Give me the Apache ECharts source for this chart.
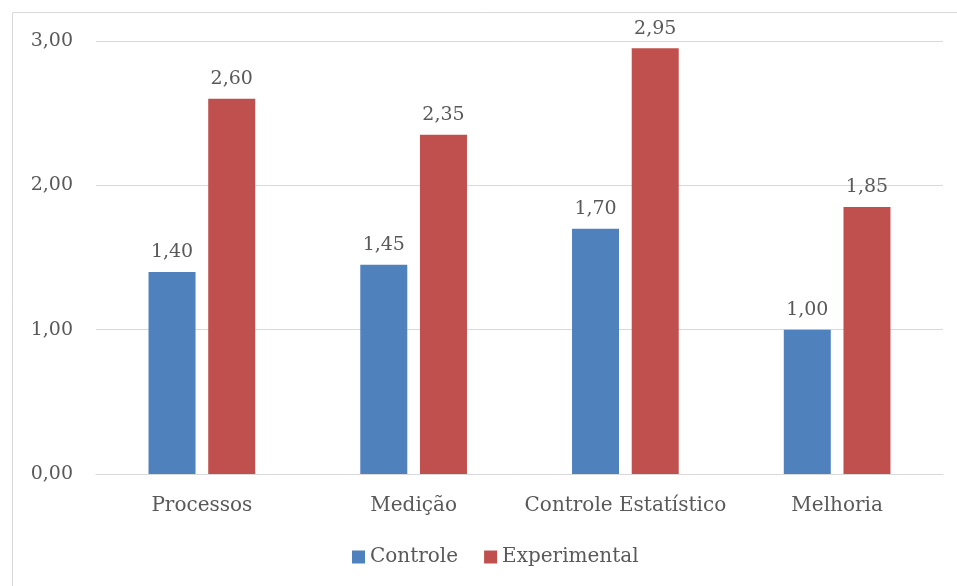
<!DOCTYPE html>
<html>
<head>
<meta charset="utf-8">
<script src="https://cdn.jsdelivr.net/npm/echarts@6/dist/echarts.min.js"></script>
<style>
    html, body { margin: 0; padding: 0; background: #fff; }
    #chart { width: 957px; height: 586px; }
</style>
</head>
<body>
<div id="chart"></div>
<script>
    var categories = ['Processos', 'Medição', 'Controle Estatístico', 'Melhoria'];
    var controle = [1.40, 1.45, 1.70, 1.00];
    var experimental = [2.60, 2.35, 2.95, 1.85];
    var seriesNames = ['Controle', 'Experimental'];

    var font = '"DejaVu Serif", serif';
    var textColor = '#595959';

    function fmt(v) {
        return Number(v).toFixed(2).replace('.', ',');
    }

    var chart = echarts.init(document.getElementById('chart'));
    var option = {
        animation: false,
        textStyle: { fontFamily: font },
        graphic: [
            {
                type: 'rect',
                shape: { x: 12.5, y: 12.5, width: 960, height: 600 },
                style: { fill: 'none', stroke: '#d9d9d9', lineWidth: 1 },
                silent: true
            }
        ],
        legend: {
            bottom: 14,
            left: 347,
            itemWidth: 13,
            itemHeight: 13,
            itemGap: 26,
            icon: 'rect',
            textStyle: { color: textColor, fontSize: 20, fontFamily: font },
            data: seriesNames
        },
        grid: {
            left: 96,
            right: 14,
            top: 41,
            bottom: 112
        },
        xAxis: {
            type: 'category',
            data: categories,
            axisTick: { show: false },
            axisLine: { lineStyle: { color: '#d9d9d9', width: 1 } },
            axisLabel: { color: textColor, fontSize: 20, fontFamily: font, margin: 22, interval: 0 }
        },
        yAxis: {
            type: 'value',
            min: 0,
            max: 3,
            interval: 1,
            axisLine: { show: false },
            axisTick: { show: false },
            splitLine: { lineStyle: { color: '#d9d9d9', width: 1 } },
            axisLabel: { color: textColor, fontSize: 19, fontFamily: font, margin: 23, formatter: fmt }
        },
        series: [
            {
                name: seriesNames[0],
                type: 'bar',
                barWidth: 47,
                barGap: '27%',
                itemStyle: { color: '#4F81BD' },
                label: { show: true, position: 'top', distance: 10, color: textColor, fontSize: 19, fontFamily: font, formatter: function (p) { return fmt(p.value); } },
                data: controle
            },
            {
                name: seriesNames[1],
                type: 'bar',
                barWidth: 47,
                itemStyle: { color: '#C0504D' },
                label: { show: true, position: 'top', distance: 10, color: textColor, fontSize: 19, fontFamily: font, formatter: function (p) { return fmt(p.value); } },
                data: experimental
            }
        ]
    };
    chart.setOption(option);
</script>
</body>
</html>
